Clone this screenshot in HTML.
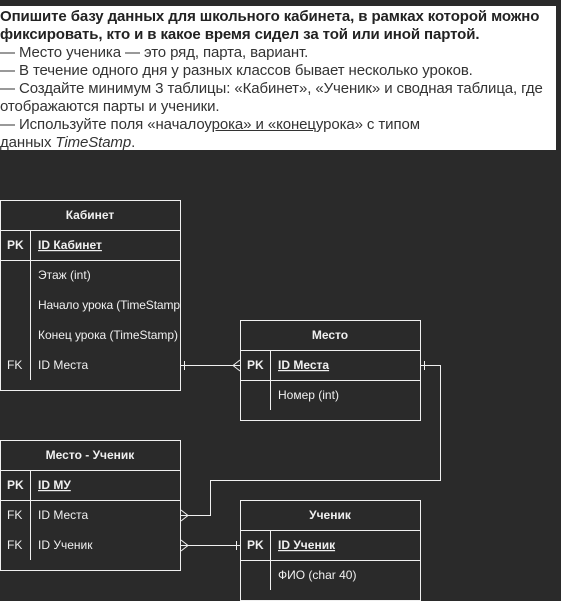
<!DOCTYPE html>
<html><head><meta charset="utf-8"><style>
html,body{margin:0;padding:0;background:#2a2a2a;width:561px;height:601px;overflow:hidden}
#t{position:absolute;left:0;top:6px;width:556px;height:144px;background:#fff;color:#111;font-family:"Liberation Sans",sans-serif;font-size:15px;line-height:18px;padding-top:2px;box-sizing:border-box;letter-spacing:-0.1px}
#t b{font-weight:bold;color:#222}
#t .g{color:#333}
svg{position:absolute;left:0;top:0}
text{font-family:"Liberation Sans",sans-serif;font-size:12px;fill:#f0f0f0}
.h{font-weight:bold}
</style></head><body>
<div id="t"><b>Опишите базу данных для школьного кабинета, в рамках которой можно фиксировать, кто и в какое время сидел за той или иной партой.</b><br><span class="g">— Место ученика — это ряд, парта, вариант.<br>— В течение одного дня у разных классов бывает несколько уроков.<br>— Создайте минимум 3 таблицы: «Кабинет», «Ученик» и сводная таблица, где отображаются парты и ученики.<br>— Используйте поля «началоу<u>рока» и «конец</u>урока» с типом<br>данных <i>TimeStamp</i>.</span></div>
<svg width="561" height="601" viewBox="0 0 561 601">
<defs><clipPath id="c1"><rect x="0" y="200" width="180" height="190"/></clipPath></defs>
<g fill="none" stroke="#f0f0f0" stroke-width="1">
<rect x="0.5" y="200.5" width="180" height="190"/>
<line x1="0" y1="230.5" x2="180" y2="230.5"/><line x1="0" y1="260.5" x2="180" y2="260.5"/>
<line x1="30.5" y1="230" x2="30.5" y2="380"/>
<rect x="240.5" y="320.5" width="180" height="100"/>
<line x1="240" y1="350.5" x2="420" y2="350.5"/><line x1="240" y1="380.5" x2="420" y2="380.5"/>
<line x1="270.5" y1="350" x2="270.5" y2="410"/>
<rect x="0.5" y="440.5" width="180" height="130"/>
<line x1="0" y1="470.5" x2="180" y2="470.5"/><line x1="0" y1="500.5" x2="180" y2="500.5"/>
<line x1="30.5" y1="470" x2="30.5" y2="560"/>
<rect x="240.5" y="500.5" width="180" height="100"/>
<line x1="240" y1="530.5" x2="420" y2="530.5"/><line x1="240" y1="560.5" x2="420" y2="560.5"/>
<line x1="270.5" y1="530" x2="270.5" y2="590"/>
<polyline points="181,365.5 240,365.5"/><line x1="184.5" y1="361" x2="184.5" y2="370"/>
<polyline points="240,360 233,365.5 240,371"/>
<polyline points="421,365.5 440.5,365.5 440.5,480.5 210.5,480.5 210.5,515.5 181,515.5"/><line x1="424.5" y1="361" x2="424.5" y2="370"/>
<polyline points="181,510 188,515.5 181,521"/>
<polyline points="181,545.5 240,545.5"/><line x1="236.5" y1="541" x2="236.5" y2="550"/>
<polyline points="181,540 188,545.5 181,551"/>
</g>
<text class="h" x="90" y="219" text-anchor="middle">Кабинет</text>
<text class="h" x="7" y="249">PK</text><text class="h" x="38" y="249" text-decoration="underline">ID Кабинет</text>
<g clip-path="url(#c1)">
<text x="38" y="279">Этаж (int)</text>
<text x="38" y="309" textLength="142">Начало урока (TimeStamp</text>
<text x="38" y="339" textLength="140">Конец урока (TimeStamp)</text>
</g>
<text x="7" y="369">FK</text><text x="38" y="369">ID Места</text>
<text class="h" x="330" y="339" text-anchor="middle">Место</text>
<text class="h" x="247" y="369">PK</text><text class="h" x="278" y="369" text-decoration="underline">ID Места</text>
<text x="278" y="399">Номер (int)</text>
<text class="h" x="90" y="459" text-anchor="middle">Место - Ученик</text>
<text class="h" x="7" y="489">PK</text><text class="h" x="38" y="489" text-decoration="underline">ID МУ</text>
<text x="7" y="519">FK</text><text x="38" y="519">ID Места</text>
<text x="7" y="549">FK</text><text x="38" y="549">ID Ученик</text>
<text class="h" x="330" y="519" text-anchor="middle">Ученик</text>
<text class="h" x="247" y="549">PK</text><text class="h" x="278" y="549" text-decoration="underline">ID Ученик</text>
<text x="278" y="579">ФИО (char 40)</text>
</svg>
</body></html>
